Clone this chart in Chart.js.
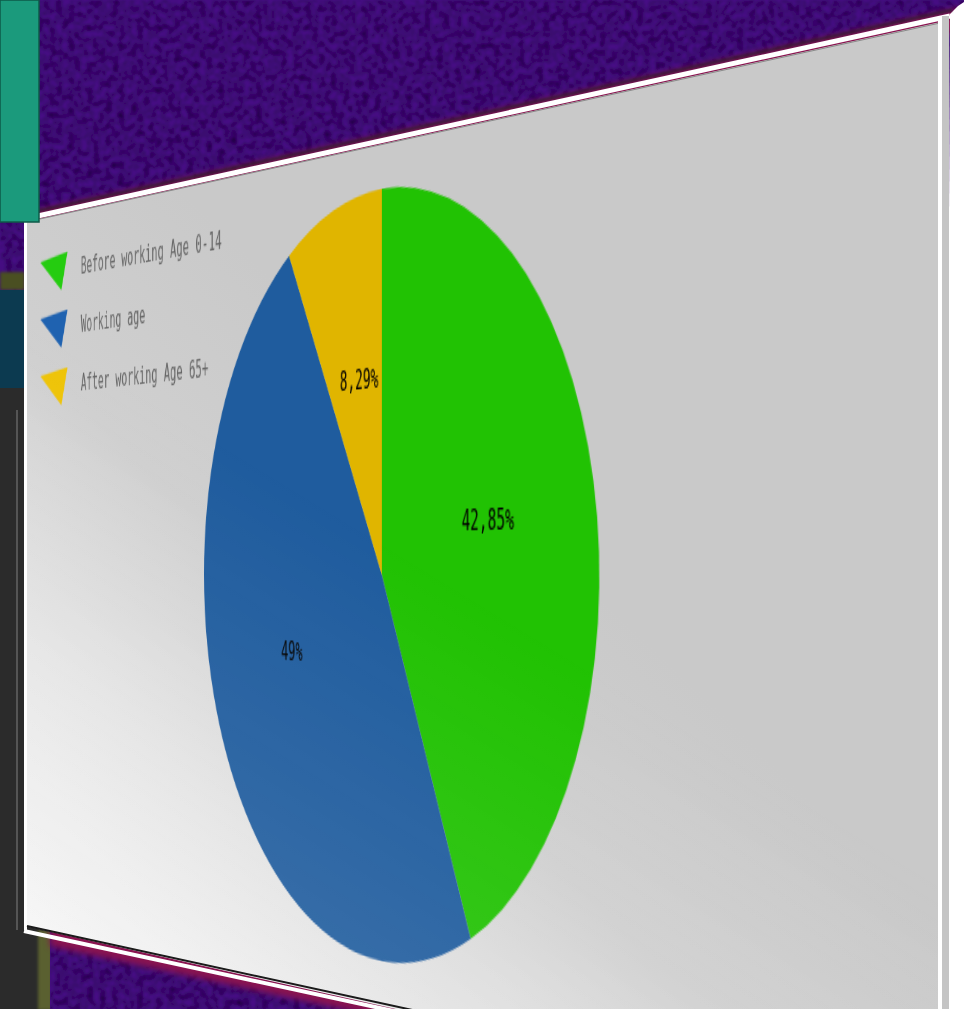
<!DOCTYPE html>
<html>
<head>
<meta charset="utf-8">
<title>Population by working age</title>
<script src="https://cdn.jsdelivr.net/npm/chart.js@4"></script>
<style>
    html, body { margin: 0; padding: 0; background: #2b2b2b; }
    #stage { position: relative; width: 964px; height: 1009px; overflow: hidden; }
    #stage svg { position: absolute; left: 0; top: 0; }
    #sheet { position: absolute; left: 0; top: 0; width: 1000px; height: 500px; transform-origin: 0 0; }
    #sheet canvas { display: block; filter: blur(0.6px); }
</style>
</head>
<body>
<div id="stage">
    <svg width="964" height="1009" viewBox="0 0 964 1009">
        <defs>
            <filter id="grain" x="0" y="0" width="100%" height="100%">
                <feTurbulence type="fractalNoise" baseFrequency="0.16" numOctaves="3" seed="4"/>
                <feColorMatrix type="matrix" values="0 0 0 0 0  0 0 0 0 0  0 0 0 0 0  1.3 0 0 0 -0.35"/>
                <feGaussianBlur stdDeviation="1.2"/>
                <feComposite in2="SourceGraphic" operator="over"/>
            </filter>
            <linearGradient id="paper" gradientUnits="userSpaceOnUse" x1="25" y1="930" x2="470" y2="470">
                <stop offset="0" stop-color="#f6f6f6"/>
                <stop offset="0.35" stop-color="#e4e4e4"/>
                <stop offset="0.65" stop-color="#d0d0d0"/>
                <stop offset="1" stop-color="#c9c9c9"/>
            </linearGradient>
        </defs>
        <rect x="0" y="0" width="964" height="1009" fill="#2b2b2b"/>
        <rect x="38" y="930" width="14" height="80" fill="#5a6030" style="filter: blur(1.5px)"/>
        <rect x="0" y="0" width="964" height="290" fill="#470a86" filter="url(#grain)"/>
        <rect x="50" y="930" width="914" height="80" fill="#470a86" filter="url(#grain)"/>
        <rect x="0" y="272" width="25" height="18" fill="#4a4f22" style="filter: blur(1.5px)"/>
        <rect x="0" y="290" width="25" height="98" fill="#0c3a50"/>
        <rect x="16" y="410" width="2" height="520" fill="#555555"/>
        <polygon points="30,212 964,7 964,30 30,232" fill="#8a1450" style="filter: blur(3px)"/>
        <polygon points="50,926 440,1012 440,1030 50,946" fill="#8a1450" style="filter: blur(3px)"/>
        <polygon points="950,14 958,6 964,2 964,1009 945,1009" fill="#ffffff"/>
        <polygon points="25,222 945,21 945,1132 25,926" fill="url(#paper)"/>
    </svg>

    <div id="sheet"><canvas id="shareChart" width="1000" height="500"></canvas></div>

    <svg width="964" height="1009" viewBox="0 0 964 1009">
        <defs>
            <linearGradient id="gloss" gradientUnits="userSpaceOnUse" x1="150" y1="1000" x2="420" y2="560">
                <stop offset="0" stop-color="#ffffff" stop-opacity="0.14"/>
                <stop offset="1" stop-color="#ffffff" stop-opacity="0"/>
            </linearGradient>
        </defs>
        <polygon points="25,222 945,21 945,1132 25,926" fill="url(#gloss)"/>
        <!-- frame of the tilted sheet -->
        <polyline points="24,214 952,10" fill="none" stroke="#222222" stroke-width="3" opacity="0.6" style="filter: blur(1px)"/>
        <polyline points="24,219 950,16" fill="none" stroke="#ffffff" stroke-width="5"/>
        <polyline points="40,219 940,23" fill="none" stroke="#8a8a8a" stroke-width="1"/>
        <line x1="25.5" y1="218" x2="25.5" y2="930" stroke="#ffffff" stroke-width="3"/>
        <rect x="938" y="20" width="4" height="989" fill="#ffffff"/>
        <rect x="942" y="16" width="7" height="993" fill="#c4c4c4"/>
        <polyline points="24,931 440,1021" fill="none" stroke="#ffffff" stroke-width="4"/>
        <polyline points="27,926 440,1016" fill="none" stroke="#1a1a1a" stroke-width="2"/>
        <rect x="0" y="0" width="39" height="222" fill="#1b9a7c" stroke="#0e5a48" stroke-width="1.5"/>
    </svg>
</div>

<script>
// Values
const categories = ['Before working Age 0-14', 'Working age', 'After working Age 65+'];
const shareValues = [42.85, 48.86, 8.29];
const shareLabels = ['42,85%', '49%', '8,29%'];
const sliceColors = ['#21c203', '#1f5c9e', '#e0b500'];
const markerColors = ['#25cc10', '#1f62b0', '#eec408'];

// Labels do not sit exactly on the middle of their slices in the original
const labelNudge = [[-1, -2], [-3, -7], [4, 2]];

// Corners of the sheet on the page: top left, top right, bottom right, bottom left
const sheetCorners = [[25, 222], [945, 21], [945, 1132], [25, 926]];

function applySheetTransform(el, w, h, q) {
    const [[x0, y0], [x1, y1], [x2, y2], [x3, y3]] = q;
    const dx1 = x1 - x2, dx2 = x3 - x2, sx = x0 - x1 + x2 - x3;
    const dy1 = y1 - y2, dy2 = y3 - y2, sy = y0 - y1 + y2 - y3;
    const det = dx1 * dy2 - dx2 * dy1;
    const g = (sx * dy2 - dx2 * sy) / det;
    const k = (dx1 * sy - sx * dy1) / det;
    const a = x1 - x0 + g * x1, b = x3 - x0 + k * x3;
    const d = y1 - y0 + g * y1, e = y3 - y0 + k * y3;
    el.style.transform = 'matrix3d(' + [
        a / w, d / w, 0, g / w,
        b / h, e / h, 0, k / h,
        0, 0, 1, 0,
        x0, y0, 0, 1
    ].join(',') + ')';
}

// Legend marker is a skewed triangle, so it gets its own small canvas.
// Spare room on the right pushes the legend text away from it.
function makeMarker(color) {
    const c = document.createElement('canvas');
    c.width = 58;
    c.height = 27;
    const ctx = c.getContext('2d');
    ctx.fillStyle = color;
    ctx.beginPath();
    ctx.moveTo(0, 4);
    ctx.lineTo(45, 0);
    ctx.lineTo(35, 26);
    ctx.closePath();
    ctx.fill();
    return c;
}

// Prints the share inside each slice, a bit past half of the radius
const sliceLabelPlugin = {
    id: 'sliceLabels',
    afterDatasetsDraw(chart) {
        const ctx = chart.ctx;
        ctx.save();
        ctx.font = '15px "DejaVu Sans Mono"';
        ctx.fillStyle = '#000000';
        ctx.textAlign = 'center';
        ctx.textBaseline = 'middle';
        chart.getDatasetMeta(0).data.forEach((arc, i) => {
            const p = arc.getProps(['x', 'y', 'startAngle', 'endAngle', 'outerRadius'], true);
            const mid = (p.startAngle + p.endAngle) / 2;
            const r = p.outerRadius * 0.53;
            ctx.fillText(shareLabels[i],
                p.x + Math.cos(mid) * r + labelNudge[i][0],
                p.y + Math.sin(mid) * r + labelNudge[i][1]);
        });
        ctx.restore();
    }
};

applySheetTransform(document.getElementById('sheet'), 1000, 500, sheetCorners);

new Chart(document.getElementById('shareChart'), {
    type: 'pie',
    data: {
        labels: categories,
        datasets: [{
            data: shareValues,
            backgroundColor: sliceColors,
            borderWidth: 0,
            radius: '89.6%'
        }]
    },
    options: {
        responsive: false,
        animation: false,
        devicePixelRatio: 1,
        plugins: {
            tooltip: { enabled: false },
            legend: {
                position: 'chartArea',
                align: 'start',
                // empty title only moves the entries down
                title: { display: true, text: ' ', font: { size: 4 }, padding: { top: 0, bottom: 3 } },
                labels: {
                    color: '#000000',
                    font: { family: '"DejaVu Sans Mono"', size: 15 },
                    usePointStyle: true,
                    pointStyleWidth: 60,
                    padding: 25,
                    generateLabels: () => categories.map((name, i) => ({
                        text: name,
                        fillStyle: markerColors[i],
                        strokeStyle: markerColors[i],
                        lineWidth: 0,
                        pointStyle: makeMarker(markerColors[i]),
                        index: i
                    }))
                }
            }
        }
    },
    plugins: [sliceLabelPlugin]
});
</script>
</body>
</html>
